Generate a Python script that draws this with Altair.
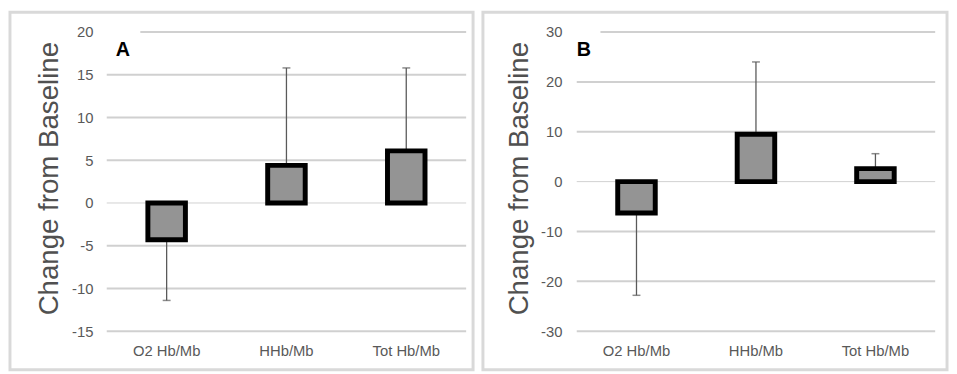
import altair as alt
import pandas as pd

cats = ["O2 Hb/Mb", "HHb/Mb", "Tot Hb/Mb"]
mean_a = [-4.3, 4.4, 6.1]
err_a = [-11.4, 15.8, 15.8]
mean_b = [-6.3, 9.5, 2.6]
err_b = [-22.8, 24.0, 5.6]
ticks_a = [-15, -10, -5, 0, 5, 10, 15, 20]
ticks_b = [-30, -20, -10, 0, 10, 20, 30]

FONT = "Liberation Sans"
GRAY = "#595959"


def panel(label, mean, err, ticks, width, x0, x1, lab_right, title_x, label_x, cover_x2):
    df = pd.DataFrame({"cat": cats, "mean": mean, "err": err})
    gdf = pd.DataFrame({"g": ticks, "w": [1 if t == 0 else 2 for t in ticks]})
    ldf = pd.DataFrame({"t": [label]})
    yscale = alt.Scale(domain=[ticks[0], ticks[-1]], range=[323, 20], nice=False, zero=False)
    xscale = alt.Scale(domain=cats, range=[x0, x1], paddingInner=0, paddingOuter=0)
    yaxis = alt.Axis(values=ticks, labelExpr="datum.value", grid=False, domain=False,
                     ticks=False, offset=-lab_right, labelPadding=0, labelFont=FONT,
                     labelFontSize=15, labelColor=GRAY, title="Change from Baseline",
                     titleFont=FONT, titleFontSize=28, titleColor="#505050", titleFontWeight="normal",
                     titleX=title_x - lab_right, titleY=168, titleBaseline="middle", titleAngle=270)
    xaxis = alt.Axis(title=None, labelAngle=0, domain=False, ticks=False, labelPadding=0,
                     offset=-26, labelFont=FONT, labelFontSize=15, labelColor=GRAY, grid=False)

    def Y(f):
        return alt.Y(f, type="quantitative", scale=yscale, axis=yaxis)

    def X():
        return alt.X("cat:N", sort=None, scale=xscale, axis=xaxis)

    grid = alt.Chart(gdf).mark_rule(color="#d0d0d0").encode(
        x=alt.value(x0), x2=alt.value(x1), y=Y("g"),
        strokeWidth=alt.StrokeWidth("w:Q", scale=None, legend=None))
    cover = alt.Chart(ldf).mark_rect(color="white").encode(
        x=alt.value(x0 - 2), x2=alt.value(cover_x2), y=alt.value(14), y2=alt.value(27))
    lab = alt.Chart(ldf).mark_text(font=FONT, fontSize=20, fontWeight="bold", color="black",
                                   align="left", baseline="middle").encode(
        x=alt.value(label_x), y=alt.value(38), text="t:N")
    rule = alt.Chart(df).mark_rule(color="#5a5a5a", strokeWidth=1.3).encode(
        x=X(), y=Y("mean"), y2="err")
    cap = alt.Chart(df).mark_tick(color="#5a5a5a", size=8, thickness=1.5).encode(
        x=X(), y=Y("err"))
    bars = alt.Chart(df).mark_bar(fill="#949494", stroke="black", strokeWidth=5, width=38).encode(
        x=X(), y=Y("mean"), y2=alt.datum(0))
    return alt.layer(grid, cover, lab, rule, cap, bars).properties(width=width, height=362)


pa = panel("A", mean_a, err_a, ticks_a, 469, 98, 462, 84, 40, 107, 132)
pb = panel("B", mean_b, err_b, ticks_b, 470, 95, 458, 80, 37, 95, 119)

chart = alt.hconcat(pa, pb, spacing=6).properties(padding=0).resolve_scale(
    x="independent", y="independent").configure_view(stroke="#d9d9d9", strokeWidth=3)

chart.save("out.html", embed_options={"renderer": "svg", "actions": False})
